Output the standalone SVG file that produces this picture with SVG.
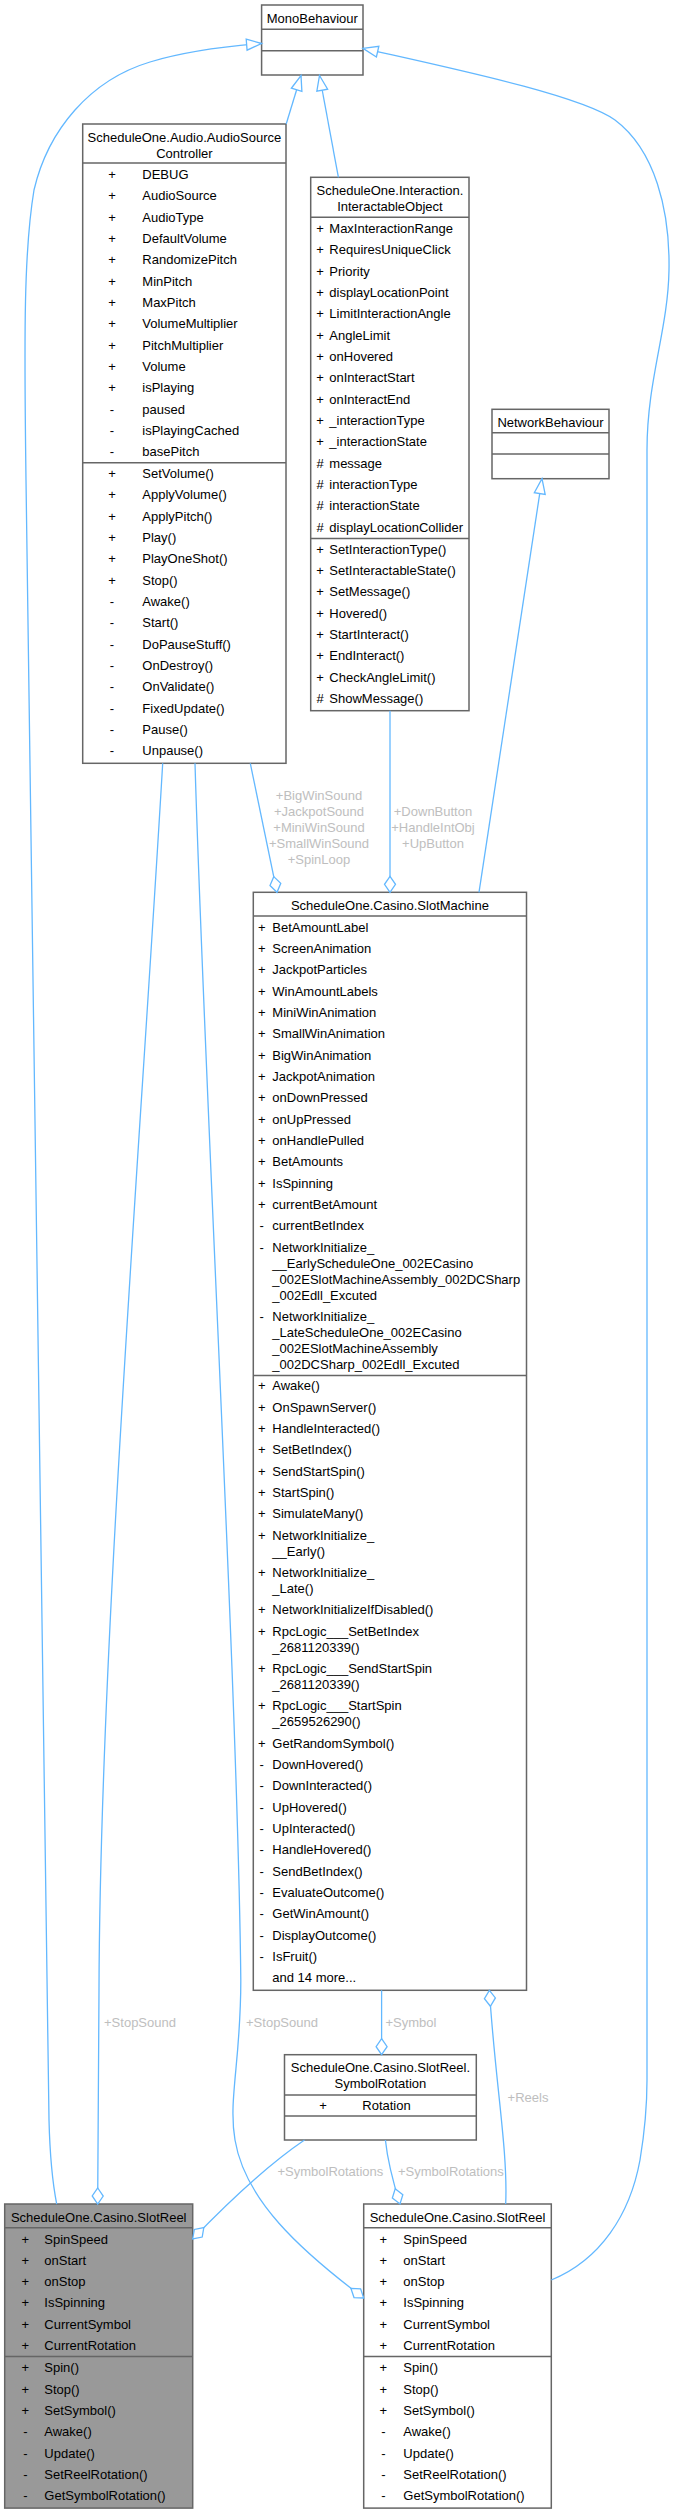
<svg xmlns="http://www.w3.org/2000/svg" width="676" height="2513" viewBox="0 0 676 2513">
<style>
.b{fill:#fff;stroke:#666;stroke-width:1.5}
.h{fill:#999;stroke:#666;stroke-width:1.5}
.d{stroke:#666;stroke-width:1.5}
text{font-family:"Liberation Sans",Arial,sans-serif;font-size:13px;fill:#000}
.c{text-anchor:middle}
text.l{fill:#bebebe;text-anchor:middle}
.e{fill:none;stroke:#63b8ff;stroke-width:1.3}
.m{fill:#fff;stroke:#63b8ff;stroke-width:1.3}
</style>
<defs>
<marker id="tri" markerUnits="userSpaceOnUse" markerWidth="20" markerHeight="16" viewBox="-2 -8 20 16" refX="15" refY="0" orient="auto" overflow="visible"><path class="m" d="M0,-5.5 L15,0 L0,5.5 Z"/></marker>
<marker id="dia" markerUnits="userSpaceOnUse" markerWidth="20" markerHeight="16" viewBox="-2 -8 20 16" refX="16" refY="0" orient="auto" overflow="visible"><path class="m" d="M0,0 L8,-5.5 L16,0 L8,5.5 Z"/></marker>
</defs>
<rect width="676" height="2513" fill="#fff"/>

<g id="monobehaviour">
<rect class="b" x="261.6" y="5" width="101.4" height="70"/>
<line class="d" x1="261.6" y1="29.3" x2="363" y2="29.3"/>
<line class="d" x1="261.6" y1="50.7" x2="363" y2="50.7"/>
<text class="c" x="312.3" y="22.9">MonoBehaviour</text>
</g>

<g id="audiosourcecontroller">
<rect class="b" x="82.7" y="124" width="203.3" height="639.3"/>
<line class="d" x1="82.7" y1="163" x2="286" y2="163"/>
<line class="d" x1="82.7" y1="462.7" x2="286" y2="462.7"/>
<text class="c" x="184.4" y="141.9">ScheduleOne.Audio.AudioSource</text>
<text class="c" x="184.4" y="157.9">Controller</text>
<text class="c" x="112" y="178.8">+</text><text x="142.3" y="178.8">DEBUG</text>
<text class="c" x="112" y="200.1">+</text><text x="142.3" y="200.1">AudioSource</text>
<text class="c" x="112" y="221.5">+</text><text x="142.3" y="221.5">AudioType</text>
<text class="c" x="112" y="242.8">+</text><text x="142.3" y="242.8">DefaultVolume</text>
<text class="c" x="112" y="264.1">+</text><text x="142.3" y="264.1">RandomizePitch</text>
<text class="c" x="112" y="285.5">+</text><text x="142.3" y="285.5">MinPitch</text>
<text class="c" x="112" y="306.8">+</text><text x="142.3" y="306.8">MaxPitch</text>
<text class="c" x="112" y="328.1">+</text><text x="142.3" y="328.1">VolumeMultiplier</text>
<text class="c" x="112" y="349.5">+</text><text x="142.3" y="349.5">PitchMultiplier</text>
<text class="c" x="112" y="370.8">+</text><text x="142.3" y="370.8">Volume</text>
<text class="c" x="112" y="392.1">+</text><text x="142.3" y="392.1">isPlaying</text>
<text class="c" x="112" y="413.5">-</text><text x="142.3" y="413.5">paused</text>
<text class="c" x="112" y="434.8">-</text><text x="142.3" y="434.8">isPlayingCached</text>
<text class="c" x="112" y="456.1">-</text><text x="142.3" y="456.1">basePitch</text>
<text class="c" x="112" y="478.1">+</text><text x="142.3" y="478.1">SetVolume()</text>
<text class="c" x="112" y="499.4">+</text><text x="142.3" y="499.4">ApplyVolume()</text>
<text class="c" x="112" y="520.8">+</text><text x="142.3" y="520.8">ApplyPitch()</text>
<text class="c" x="112" y="542.1">+</text><text x="142.3" y="542.1">Play()</text>
<text class="c" x="112" y="563.4">+</text><text x="142.3" y="563.4">PlayOneShot()</text>
<text class="c" x="112" y="584.8">+</text><text x="142.3" y="584.8">Stop()</text>
<text class="c" x="112" y="606.1">-</text><text x="142.3" y="606.1">Awake()</text>
<text class="c" x="112" y="627.4">-</text><text x="142.3" y="627.4">Start()</text>
<text class="c" x="112" y="648.8">-</text><text x="142.3" y="648.8">DoPauseStuff()</text>
<text class="c" x="112" y="670.1">-</text><text x="142.3" y="670.1">OnDestroy()</text>
<text class="c" x="112" y="691.4">-</text><text x="142.3" y="691.4">OnValidate()</text>
<text class="c" x="112" y="712.8">-</text><text x="142.3" y="712.8">FixedUpdate()</text>
<text class="c" x="112" y="734.1">-</text><text x="142.3" y="734.1">Pause()</text>
<text class="c" x="112" y="755.4">-</text><text x="142.3" y="755.4">Unpause()</text>
</g>

<g id="interactableobject">
<rect class="b" x="310.7" y="177.3" width="158.3" height="533.4"/>
<line class="d" x1="310.7" y1="217.3" x2="469" y2="217.3"/>
<line class="d" x1="310.7" y1="538.4" x2="469" y2="538.4"/>
<text class="c" x="389.9" y="195.3">ScheduleOne.Interaction.</text>
<text class="c" x="389.9" y="211.3">InteractableObject</text>
<text class="c" x="320" y="233.1">+</text><text x="329.3" y="233.1">MaxInteractionRange</text>
<text class="c" x="320" y="254.4">+</text><text x="329.3" y="254.4">RequiresUniqueClick</text>
<text class="c" x="320" y="275.8">+</text><text x="329.3" y="275.8">Priority</text>
<text class="c" x="320" y="297.1">+</text><text x="329.3" y="297.1">displayLocationPoint</text>
<text class="c" x="320" y="318.4">+</text><text x="329.3" y="318.4">LimitInteractionAngle</text>
<text class="c" x="320" y="339.8">+</text><text x="329.3" y="339.8">AngleLimit</text>
<text class="c" x="320" y="361.1">+</text><text x="329.3" y="361.1">onHovered</text>
<text class="c" x="320" y="382.4">+</text><text x="329.3" y="382.4">onInteractStart</text>
<text class="c" x="320" y="403.8">+</text><text x="329.3" y="403.8">onInteractEnd</text>
<text class="c" x="320" y="425.1">+</text><text x="329.3" y="425.1">_interactionType</text>
<text class="c" x="320" y="446.4">+</text><text x="329.3" y="446.4">_interactionState</text>
<text class="c" x="320" y="467.8">#</text><text x="329.3" y="467.8">message</text>
<text class="c" x="320" y="489.1">#</text><text x="329.3" y="489.1">interactionType</text>
<text class="c" x="320" y="510.4">#</text><text x="329.3" y="510.4">interactionState</text>
<text class="c" x="320" y="531.8">#</text><text x="329.3" y="531.8">displayLocationCollider</text>
<text class="c" x="320" y="553.6">+</text><text x="329.3" y="553.6">SetInteractionType()</text>
<text class="c" x="320" y="574.9">+</text><text x="329.3" y="574.9">SetInteractableState()</text>
<text class="c" x="320" y="596.3">+</text><text x="329.3" y="596.3">SetMessage()</text>
<text class="c" x="320" y="617.6">+</text><text x="329.3" y="617.6">Hovered()</text>
<text class="c" x="320" y="638.9">+</text><text x="329.3" y="638.9">StartInteract()</text>
<text class="c" x="320" y="660.3">+</text><text x="329.3" y="660.3">EndInteract()</text>
<text class="c" x="320" y="681.6">+</text><text x="329.3" y="681.6">CheckAngleLimit()</text>
<text class="c" x="320" y="702.9">#</text><text x="329.3" y="702.9">ShowMessage()</text>
</g>

<g id="networkbehaviour">
<rect class="b" x="492" y="409.3" width="117" height="69.4"/>
<line class="d" x1="492" y1="432.7" x2="609" y2="432.7"/>
<line class="d" x1="492" y1="454" x2="609" y2="454"/>
<text class="c" x="550.5" y="427.3">NetworkBehaviour</text>
</g>

<g id="slotmachine">
<rect class="b" x="253.3" y="892.3" width="273.2" height="1098"/>
<line class="d" x1="253.3" y1="915.9" x2="526.5" y2="915.9"/>
<line class="d" x1="253.3" y1="1375.6" x2="526.5" y2="1375.6"/>
<text class="c" x="389.9" y="909.6">ScheduleOne.Casino.SlotMachine</text>
<text class="c" x="261.7" y="931.7">+</text><text x="272.3" y="931.7">BetAmountLabel</text>
<text class="c" x="261.7" y="953">+</text><text x="272.3" y="953">ScreenAnimation</text>
<text class="c" x="261.7" y="974.4">+</text><text x="272.3" y="974.4">JackpotParticles</text>
<text class="c" x="261.7" y="995.7">+</text><text x="272.3" y="995.7">WinAmountLabels</text>
<text class="c" x="261.7" y="1017">+</text><text x="272.3" y="1017">MiniWinAnimation</text>
<text class="c" x="261.7" y="1038.4">+</text><text x="272.3" y="1038.4">SmallWinAnimation</text>
<text class="c" x="261.7" y="1059.7">+</text><text x="272.3" y="1059.7">BigWinAnimation</text>
<text class="c" x="261.7" y="1081">+</text><text x="272.3" y="1081">JackpotAnimation</text>
<text class="c" x="261.7" y="1102.4">+</text><text x="272.3" y="1102.4">onDownPressed</text>
<text class="c" x="261.7" y="1123.7">+</text><text x="272.3" y="1123.7">onUpPressed</text>
<text class="c" x="261.7" y="1145">+</text><text x="272.3" y="1145">onHandlePulled</text>
<text class="c" x="261.7" y="1166.4">+</text><text x="272.3" y="1166.4">BetAmounts</text>
<text class="c" x="261.7" y="1187.7">+</text><text x="272.3" y="1187.7">IsSpinning</text>
<text class="c" x="261.7" y="1209">+</text><text x="272.3" y="1209">currentBetAmount</text>
<text class="c" x="261.7" y="1230.4">-</text><text x="272.3" y="1230.4">currentBetIndex</text>
<text class="c" x="261.7" y="1251.7">-</text><text x="272.3" y="1251.7">NetworkInitialize_</text>
<text x="272.3" y="1267.7">__EarlyScheduleOne_002ECasino</text>
<text x="272.3" y="1283.7">_002ESlotMachineAssembly_002DCSharp</text>
<text x="272.3" y="1299.7">_002Edll_Excuted</text>
<text class="c" x="261.7" y="1321">-</text><text x="272.3" y="1321">NetworkInitialize_</text>
<text x="272.3" y="1337">_LateScheduleOne_002ECasino</text>
<text x="272.3" y="1353">_002ESlotMachineAssembly</text>
<text x="272.3" y="1369">_002DCSharp_002Edll_Excuted</text>
<text class="c" x="261.7" y="1390.4">+</text><text x="272.3" y="1390.4">Awake()</text>
<text class="c" x="261.7" y="1411.7">+</text><text x="272.3" y="1411.7">OnSpawnServer()</text>
<text class="c" x="261.7" y="1433.1">+</text><text x="272.3" y="1433.1">HandleInteracted()</text>
<text class="c" x="261.7" y="1454.4">+</text><text x="272.3" y="1454.4">SetBetIndex()</text>
<text class="c" x="261.7" y="1475.7">+</text><text x="272.3" y="1475.7">SendStartSpin()</text>
<text class="c" x="261.7" y="1497.1">+</text><text x="272.3" y="1497.1">StartSpin()</text>
<text class="c" x="261.7" y="1518.4">+</text><text x="272.3" y="1518.4">SimulateMany()</text>
<text class="c" x="261.7" y="1539.7">+</text><text x="272.3" y="1539.7">NetworkInitialize_</text>
<text x="272.3" y="1555.7">__Early()</text>
<text class="c" x="261.7" y="1577.1">+</text><text x="272.3" y="1577.1">NetworkInitialize_</text>
<text x="272.3" y="1593.1">_Late()</text>
<text class="c" x="261.7" y="1614.4">+</text><text x="272.3" y="1614.4">NetworkInitializeIfDisabled()</text>
<text class="c" x="261.7" y="1635.7">+</text><text x="272.3" y="1635.7">RpcLogic___SetBetIndex</text>
<text x="272.3" y="1651.7">_2681120339()</text>
<text class="c" x="261.7" y="1673.1">+</text><text x="272.3" y="1673.1">RpcLogic___SendStartSpin</text>
<text x="272.3" y="1689.1">_2681120339()</text>
<text class="c" x="261.7" y="1710.4">+</text><text x="272.3" y="1710.4">RpcLogic___StartSpin</text>
<text x="272.3" y="1726.4">_2659526290()</text>
<text class="c" x="261.7" y="1747.7">+</text><text x="272.3" y="1747.7">GetRandomSymbol()</text>
<text class="c" x="261.7" y="1769.1">-</text><text x="272.3" y="1769.1">DownHovered()</text>
<text class="c" x="261.7" y="1790.4">-</text><text x="272.3" y="1790.4">DownInteracted()</text>
<text class="c" x="261.7" y="1811.7">-</text><text x="272.3" y="1811.7">UpHovered()</text>
<text class="c" x="261.7" y="1833.1">-</text><text x="272.3" y="1833.1">UpInteracted()</text>
<text class="c" x="261.7" y="1854.4">-</text><text x="272.3" y="1854.4">HandleHovered()</text>
<text class="c" x="261.7" y="1875.7">-</text><text x="272.3" y="1875.7">SendBetIndex()</text>
<text class="c" x="261.7" y="1897.1">-</text><text x="272.3" y="1897.1">EvaluateOutcome()</text>
<text class="c" x="261.7" y="1918.4">-</text><text x="272.3" y="1918.4">GetWinAmount()</text>
<text class="c" x="261.7" y="1939.7">-</text><text x="272.3" y="1939.7">DisplayOutcome()</text>
<text class="c" x="261.7" y="1961.1">-</text><text x="272.3" y="1961.1">IsFruit()</text>
<text x="272.3" y="1982.4">and 14 more...</text>
</g>

<g id="symbolrotation">
<rect class="b" x="284.5" y="2054.7" width="191.8" height="85.3"/>
<line class="d" x1="284.5" y1="2095" x2="476.3" y2="2095"/>
<line class="d" x1="284.5" y1="2116" x2="476.3" y2="2116"/>
<text class="c" x="380.4" y="2071.9">ScheduleOne.Casino.SlotReel.</text>
<text class="c" x="380.4" y="2087.9">SymbolRotation</text>
<text class="c" x="323" y="2109.9">+</text><text x="362.3" y="2109.9">Rotation</text>
</g>

<g id="slotreel_highlight">
<rect class="h" x="4.7" y="2204" width="188" height="304.1"/>
<line class="d" x1="4.7" y1="2227.7" x2="192.7" y2="2227.7"/>
<line class="d" x1="4.7" y1="2356.6" x2="192.7" y2="2356.6"/>
<text class="c" x="98.7" y="2222.3">ScheduleOne.Casino.SlotReel</text>
<text class="c" x="25.3" y="2243.5">+</text><text x="44.3" y="2243.5">SpinSpeed</text>
<text class="c" x="25.3" y="2264.8">+</text><text x="44.3" y="2264.8">onStart</text>
<text class="c" x="25.3" y="2286.1">+</text><text x="44.3" y="2286.1">onStop</text>
<text class="c" x="25.3" y="2307.4">+</text><text x="44.3" y="2307.4">IsSpinning</text>
<text class="c" x="25.3" y="2328.7">+</text><text x="44.3" y="2328.7">CurrentSymbol</text>
<text class="c" x="25.3" y="2350">+</text><text x="44.3" y="2350">CurrentRotation</text>
<text class="c" x="25.3" y="2372.4">+</text><text x="44.3" y="2372.4">Spin()</text>
<text class="c" x="25.3" y="2393.7">+</text><text x="44.3" y="2393.7">Stop()</text>
<text class="c" x="25.3" y="2415">+</text><text x="44.3" y="2415">SetSymbol()</text>
<text class="c" x="25.3" y="2436.3">-</text><text x="44.3" y="2436.3">Awake()</text>
<text class="c" x="25.3" y="2457.6">-</text><text x="44.3" y="2457.6">Update()</text>
<text class="c" x="25.3" y="2478.9">-</text><text x="44.3" y="2478.9">SetReelRotation()</text>
<text class="c" x="25.3" y="2500.2">-</text><text x="44.3" y="2500.2">GetSymbolRotation()</text>
</g>

<g id="slotreel">
<rect class="b" x="363.7" y="2204" width="187.6" height="304.1"/>
<line class="d" x1="363.7" y1="2227.7" x2="551.3" y2="2227.7"/>
<line class="d" x1="363.7" y1="2356.6" x2="551.3" y2="2356.6"/>
<text class="c" x="457.5" y="2222.3">ScheduleOne.Casino.SlotReel</text>
<text class="c" x="383.3" y="2243.5">+</text><text x="403.3" y="2243.5">SpinSpeed</text>
<text class="c" x="383.3" y="2264.8">+</text><text x="403.3" y="2264.8">onStart</text>
<text class="c" x="383.3" y="2286.1">+</text><text x="403.3" y="2286.1">onStop</text>
<text class="c" x="383.3" y="2307.4">+</text><text x="403.3" y="2307.4">IsSpinning</text>
<text class="c" x="383.3" y="2328.7">+</text><text x="403.3" y="2328.7">CurrentSymbol</text>
<text class="c" x="383.3" y="2350">+</text><text x="403.3" y="2350">CurrentRotation</text>
<text class="c" x="383.3" y="2372.4">+</text><text x="403.3" y="2372.4">Spin()</text>
<text class="c" x="383.3" y="2393.7">+</text><text x="403.3" y="2393.7">Stop()</text>
<text class="c" x="383.3" y="2415">+</text><text x="403.3" y="2415">SetSymbol()</text>
<text class="c" x="383.3" y="2436.3">-</text><text x="403.3" y="2436.3">Awake()</text>
<text class="c" x="383.3" y="2457.6">-</text><text x="403.3" y="2457.6">Update()</text>
<text class="c" x="383.3" y="2478.9">-</text><text x="403.3" y="2478.9">SetReelRotation()</text>
<text class="c" x="383.3" y="2500.2">-</text><text x="403.3" y="2500.2">GetSymbolRotation()</text>
</g>

<g id="connectors">
<path class="e" marker-end="url(#tri)" d="M286.2,124 L301,75.5"/>
<path class="e" marker-end="url(#tri)" d="M338.4,177.3 L319.5,75.5"/>
<path class="e" marker-end="url(#tri)" d="M56.7,2204 C52,2180 50,2160 49,2120 L26,480 C24,330 24,250 34,190 C48,130 90,80 150,62 C190,50 230,46 261.6,43.5"/>
<path class="e" marker-end="url(#tri)" d="M551.3,2280 C600,2260 630,2215 640,2160 C645,2130 647,2110 647,2080 L647,450 C647,380 668,330 669,270 C670,210 655,150 615,120 C580,95 450,68 363,48.3"/>
<path class="e" marker-end="url(#tri)" d="M479,892.3 L542,478.7"/>
<path class="e" marker-end="url(#dia)" d="M250.3,763.3 L277,892.3"/>
<path class="e" marker-end="url(#dia)" d="M390,710.7 L390,892.3"/>
<path class="e" marker-end="url(#dia)" d="M162.7,763.3 C140,1150 100,1650 99,1990 C98.5,2100 97.8,2150 97.7,2204"/>
<path class="e" marker-end="url(#dia)" d="M195,763.3 C205,1100 238,1700 240.8,1980 C241,2060 228,2100 235,2140 C245,2200 300,2250 363.7,2298"/>
<path class="e" marker-end="url(#dia)" d="M381.6,1990.3 L381.6,2054.7"/>
<path class="e" marker-end="url(#dia)" d="M505.7,2204 C508,2150 495,2080 489.4,1990.3"/>
<path class="e" marker-end="url(#dia)" d="M304.5,2140 C275,2160 240,2190 192.7,2239"/>
<path class="e" marker-end="url(#dia)" d="M385.4,2140 C388,2165 394,2185 400,2204"/>
<text class="l" x="319" y="800">+BigWinSound</text>
<text class="l" x="319" y="816">+JackpotSound</text>
<text class="l" x="319" y="832">+MiniWinSound</text>
<text class="l" x="319" y="848">+SmallWinSound</text>
<text class="l" x="319" y="864">+SpinLoop</text>
<text class="l" x="433" y="816">+DownButton</text>
<text class="l" x="433" y="832">+HandleIntObj</text>
<text class="l" x="433" y="848">+UpButton</text>
<text class="l" x="140" y="2027.3">+StopSound</text>
<text class="l" x="282" y="2027.3">+StopSound</text>
<text class="l" x="411" y="2027.3">+Symbol</text>
<text class="l" x="528" y="2101.9">+Reels</text>
<text class="l" x="330.4" y="2176.3">+SymbolRotations</text>
<text class="l" x="450.9" y="2176.3">+SymbolRotations</text>
</g>
</svg>
